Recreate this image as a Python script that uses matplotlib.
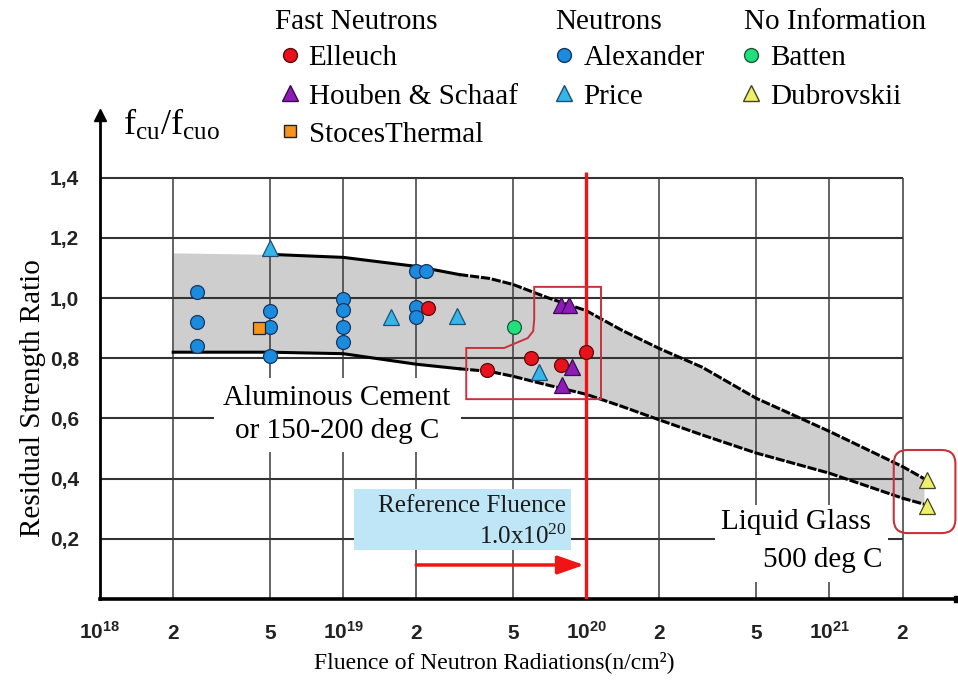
import matplotlib
matplotlib.use('Agg')
import matplotlib.pyplot as plt
from matplotlib.lines import Line2D
from matplotlib.patches import Rectangle, Polygon, FancyBboxPatch
from matplotlib.ticker import NullLocator

plt.rcParams['font.family'] = 'Liberation Serif'
plt.rcParams['mathtext.fontset'] = 'custom'
plt.rcParams['mathtext.rm'] = 'Liberation Serif'
plt.rcParams['mathtext.it'] = 'Liberation Serif:italic'
plt.rcParams['mathtext.bf'] = 'Liberation Sans:bold'

# ---- data ----
alexander_x = [2.5e18, 2.5e18, 2.5e18, 5e18, 5e18, 5e18, 1e19, 1e19, 1e19, 1e19,
               2e19, 2.2e19, 2e19, 2e19]
alexander_y = [1.02, 0.92, 0.84, 0.957, 0.904, 0.807, 0.997, 0.96, 0.904, 0.854,
               1.09, 1.09, 0.97, 0.937]
price_x = [5e18, 1.58e19, 2.95e19, 6.4e19]
price_y = [1.166, 0.937, 0.94, 0.754]
stoces_x = [4.5e18]
stoces_y = [0.90]
elleuch_x = [2.24e19, 3.92e19, 5.94e19, 7.9e19, 1.0e20]
elleuch_y = [0.967, 0.761, 0.80, 0.777, 0.82]
houben_x = [7.9e19, 8.5e19, 8.7e19, 7.95e19]
houben_y = [0.977, 0.977, 0.771, 0.711]
batten_x = [5.06e19]
batten_y = [0.904]
dubrovskii_x = [2.53e21, 2.53e21]
dubrovskii_y = [0.395, 0.309]

# scatter band (upper / lower bound)
band_x = [2e18, 5e18, 1e19, 2e19, 3e19, 4e19, 5e19, 7e19, 1e20, 1.4e20, 2e20,
          3e20, 5e20, 1e21, 2e21, 2.45e21]
band_upper = [1.15, 1.145, 1.135, 1.105, 1.078, 1.065, 1.045, 1.0, 0.958, 0.893,
              0.832, 0.77, 0.667, 0.557, 0.44, 0.40]
band_lower = [0.82, 0.82, 0.815, 0.78, 0.765, 0.756, 0.74, 0.71, 0.68, 0.64,
              0.595, 0.545, 0.485, 0.418, 0.335, 0.315]

grid_x = [2e18, 5e18, 1e19, 2e19, 5e19, 1e20, 2e20, 5e20, 1e21, 2e21]
grid_y = [0.2, 0.4, 0.6, 0.8, 1.0, 1.2, 1.4]
xtick_pos = [1e18, 2e18, 5e18, 1e19, 2e19, 5e19, 1e20, 2e20, 5e20, 1e21, 2e21]
xtick_labels = [r'$\mathbf{10^{18}}$', '2', '5', r'$\mathbf{10^{19}}$', '2', '5',
                r'$\mathbf{10^{20}}$', '2', '5', r'$\mathbf{10^{21}}$', '2']
ytick_labels = ['0,2', '0,4', '0,6', '0,8', '1,0', '1,2', '1,4']

ref_fluence = 1e20

fig = plt.figure(figsize=(9.58, 6.86), dpi=100)
ax = fig.add_axes([100/958, 87/686, 857/958, 484/686])
ax.set_xscale('log')
ax.set_xlim(1e18, 3.35e21)
ax.set_ylim(0, 1.608)

# grid only inside the box up to 2e21 / 1.4
ax.hlines(grid_y, 1e18, 2e21, color='#333333', lw=1.5, zorder=2)
ax.vlines(grid_x, 0, 1.4, color='#3a3a3a', lw=1.1, zorder=2)

# band
ax.fill_between(band_x, band_lower, band_upper, color='#cecece', lw=0, zorder=1)
k = 4
dash = (0, (3, 0.6))
ax.plot(band_x[1:k+1], band_upper[1:k+1], color='k', lw=2.2, zorder=3)
ax.plot(band_x[k:], band_upper[k:], color='k', lw=2.2, ls=dash, zorder=3)
ax.plot(band_x[:k+1], band_lower[:k+1], color='k', lw=2.2, zorder=3)
ax.plot(band_x[k:], band_lower[k:], color='k', lw=2.2, ls=dash, zorder=3)

# white label boxes and texts
ax.add_patch(Rectangle((2.94e18, 0.488), 3.06e19 - 2.94e18, 0.246,
                       facecolor='white', edgecolor='none', zorder=3))
ax.text(9.44e18, 0.613, 'Aluminous Cement\nor 150-200 deg C', ha='center',
        va='center', fontsize=21, linespacing=1.35, zorder=4)
ax.add_patch(Rectangle((3.37e20, 0.056), 1.75e21 - 3.37e20, 0.256,
                       facecolor='white', edgecolor='none', zorder=3))
ax.text(7.3e20, 0.256, 'Liquid Glass', ha='center', va='center', fontsize=21, zorder=4)
ax.text(9.35e20, 0.13, '500 deg C', ha='center', va='center', fontsize=21, zorder=4)

# reference fluence
ax.add_patch(Rectangle((1.11e19, 0.163), 8.67e19 - 1.11e19, 0.202,
                       facecolor='#bfe6f7', edgecolor='none', zorder=3))
ax.text(8.28e19, 0.309, 'Reference Fluence', ha='right', va='center',
        fontsize=18, color='#1a1a1a', zorder=4)
ax.text(8.28e19, 0.206, r'1.0x10$^{20}$', ha='right', va='center',
        fontsize=18, color='#1a1a1a', zorder=4)
ax.vlines(ref_fluence, 0, 1.418, color='#f01414', lw=2.4, zorder=4)
ax.annotate('', xy=(9.8e19, 0.113), xytext=(2.0e19, 0.113),
            arrowprops=dict(arrowstyle='-|>,head_length=0.8,head_width=0.28',
                            color='#f01414', lw=2.5, mutation_scale=20,
                            shrinkA=0, shrinkB=0), zorder=4)

# red outlines
outline = [(3.21e19, 0.834), (4.6e19, 0.834), (5.75e19, 0.867), (6.05e19, 0.89),
           (6.11e19, 0.93), (6.11e19, 1.037), (1.15e20, 1.037), (1.15e20, 0.664),
           (3.21e19, 0.664)]
ax.add_patch(Polygon(outline, closed=True, fill=False, edgecolor='#c8323a',
                     lw=1.4, zorder=4))
to_ax = ax.transData + ax.transAxes.inverted()
(x0, y0), (x1, y1) = to_ax.transform([(1.84e21, 0.219), (3.3e21, 0.495)])
ax.add_patch(FancyBboxPatch((x0, y0), x1 - x0, y1 - y0,
                            boxstyle='round,pad=0,rounding_size=0.016',
                            mutation_aspect=857/484, transform=ax.transAxes,
                            fill=False, edgecolor='#c8323a', lw=1.5,
                            zorder=4, clip_on=False))

# points
ms_c, ms_t = 10, 11
ax.plot(alexander_x, alexander_y, 'o', ms=ms_c, mfc='#1b8be0', mec='#17375e', mew=0.9, zorder=6)
ax.plot(price_x, price_y, '^', ms=ms_t, mfc='#35b6e9', mec='#1d4f7a', mew=0.9, zorder=6)
ax.plot(stoces_x, stoces_y, 's', ms=9, mfc='#f7941d', mec='#222222', mew=0.9, zorder=6)
ax.plot(elleuch_x, elleuch_y, 'o', ms=ms_c, mfc='#e8121c', mec='#5a0a0a', mew=0.9, zorder=6)
ax.plot(houben_x, houben_y, '^', ms=ms_t, mfc='#8e1bb8', mec='#3a0a50', mew=0.9, zorder=6)
ax.plot(batten_x, batten_y, 'o', ms=ms_c, mfc='#1ee07c', mec='#225533', mew=0.9, zorder=6)
ax.plot(dubrovskii_x, dubrovskii_y, '^', ms=ms_t, mfc='#eef06a', mec='#444422', mew=0.9,
        zorder=6, clip_on=False)

# axes styling
for s in ['top', 'right']:
    ax.spines[s].set_visible(False)
ax.spines['left'].set_linewidth(2)
ax.spines['bottom'].set_linewidth(2.6)
ax.plot([0], [1], marker='^', ms=8, color='k', transform=ax.transAxes, clip_on=False)
ax.plot([1], [0], marker='s', ms=5, color='k', transform=ax.transAxes, clip_on=False)

ax.set_xticks(xtick_pos)
ax.set_xticklabels(xtick_labels)
ax.xaxis.set_minor_locator(NullLocator())
ax.set_yticks(grid_y)
ax.set_yticklabels(ytick_labels)
ax.tick_params(axis='both', length=0)
ax.tick_params(axis='x', pad=29)
ax.tick_params(axis='y', pad=15)
for lbl in ax.get_xticklabels() + ax.get_yticklabels():
    lbl.set_fontfamily('Liberation Sans')
    lbl.set_fontweight('bold')
    lbl.set_fontsize(15)
    lbl.set_color('#222222')
for lbl in ax.get_xticklabels():
    lbl.set_verticalalignment('baseline')

fig.text(123/958, 1 - 125/686, r'$\mathrm{f_{cu}/f_{cuo}}$', fontsize=26, va='center')
fig.text(33/958, 1 - 398/686, 'Residual Strength Ratio', rotation=90,
         ha='center', va='center', fontsize=21)
fig.text(494/958, 1 - 662/686, 'Fluence of Neutron Radiations(n/cm\u00b2)',
         ha='center', va='center', fontsize=17)

# legend with group headers
fig.text(275/958, 1 - 22/686, 'Fast Neutrons', fontsize=21, va='center')
fig.text(555/958, 1 - 22/686, 'Neutrons', fontsize=21, va='center')
fig.text(744/958, 1 - 22/686, 'No Information', fontsize=21, va='center')

handles = [
    Line2D([], [], ls='none', marker='o', ms=ms_c, mfc='#e8121c', mec='#5a0a0a'),
    Line2D([], [], ls='none', marker='^', ms=ms_t, mfc='#8e1bb8', mec='#3a0a50'),
    Line2D([], [], ls='none', marker='s', ms=9, mfc='#f7941d', mec='#222222'),
    Line2D([], [], ls='none', marker='o', ms=ms_c, mfc='#1b8be0', mec='#17375e'),
    Line2D([], [], ls='none', marker='^', ms=ms_t, mfc='#35b6e9', mec='#1d4f7a'),
    Line2D([], [], ls='none', marker='o', ms=ms_c, mfc='#1ee07c', mec='#225533'),
    Line2D([], [], ls='none', marker='^', ms=ms_t, mfc='#eef06a', mec='#444422'),
]
labels = ['Elleuch', 'Houben & Schaaf', 'StocesThermal', 'Alexander', 'Price',
          'Batten', 'Dubrovskii']
fig.legend(handles, labels, ncol=3, loc='upper left',
           bbox_to_anchor=(278/958, 1 - 45/686), frameon=False,
           prop={'family': 'Liberation Serif', 'size': 21},
           handlelength=0.8, handletextpad=0.25, columnspacing=1.2,
           labelspacing=0.4, borderpad=0, borderaxespad=0)

fig.savefig('out.png', dpi=100)
